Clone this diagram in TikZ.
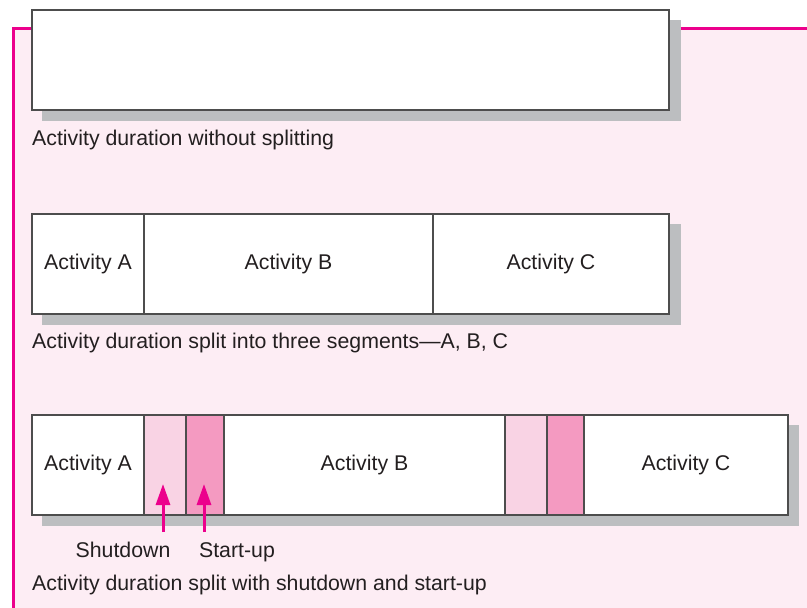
\documentclass[tikz,border=0pt]{standalone}
\usepackage{fontspec}
\setmainfont{Liberation Sans}
\usetikzlibrary{positioning,calc,arrows.meta}

\definecolor{panelpink}{HTML}{FDEDF4}
\definecolor{rulemagenta}{HTML}{EC008C}
\definecolor{shadowgray}{HTML}{BCBEC0}
\definecolor{shutpink}{HTML}{F9D3E4}
\definecolor{startpink}{HTML}{F49AC1}
\definecolor{boxline}{HTML}{4D4D4D}
\definecolor{inktext}{HTML}{231F20}

\tikzset{
  seg/.style={draw=boxline, line width=1.6pt, fill=white, minimum height=100pt,
    inner sep=0pt, outer sep=0pt, text=inktext},
  shutseg/.style={seg, fill=shutpink},
  startseg/.style={seg, fill=startpink},
  caption/.style={anchor=base west, inner sep=0pt, text=inktext},
  shadowbox/.style={fill=shadowgray},
  pointer/.style={draw=rulemagenta, line width=3pt,
    -{Triangle[length=21pt,width=14pt]}}
}

\begin{document}
\begin{tikzpicture}[x=1pt,y=-1pt,line cap=butt,line join=miter,
  font=\fontsize{21.3}{25}\selectfont]
\useasboundingbox (0,0) rectangle (807,608);

% pink panel with magenta rule on top and left
\fill[panelpink] (13.5,28.7) rectangle (807,608);
\draw[rulemagenta, line width=2.8pt] (13.5,608) -- (13.5,28.7) -- (807,28.7);

% bar without splitting
\fill[shadowbox] (42,20) rectangle (681,121);
\node[seg, minimum width=637pt, anchor=north west] (whole) at (32,10) {};
\node[caption] (cap1) at (32,145) {Activity duration without splitting};

% bar split into A, B, C
\fill[shadowbox] (42,224) rectangle (681,325);
\node[seg, minimum width=112pt, anchor=north west] (a2) at (32,214) {Activity A};
\node[seg, minimum width=289pt, right=0pt of a2] (b2) {Activity B};
\node[seg, minimum width=236pt, right=0pt of b2] (c2) {Activity C};
\node[caption] (cap2) at (32,348) {Activity duration split into three segments---A, B, C};

% bar split with shutdown and start-up
\fill[shadowbox] (42,425) rectangle (799,526);
\node[seg, minimum width=112pt, anchor=north west] (a3) at (32,415) {Activity A};
\node[shutseg, minimum width=42pt, right=0pt of a3] (s1) {};
\node[startseg, minimum width=38pt, right=0pt of s1] (u1) {};
\node[seg, minimum width=281pt, right=0pt of u1] (b3) {Activity B};
\node[shutseg, minimum width=42pt, right=0pt of b3] (s2) {};
\node[startseg, minimum width=37pt, right=0pt of s2] (u2) {};
\node[seg, minimum width=204pt, right=0pt of u2] (c3) {Activity C};

% pointers to the first shutdown and start-up
\coordinate (shutfoot) at (163,532);
\coordinate (startfoot) at (204,532);
\draw[pointer] (shutfoot) -- (shutfoot |- 0,484);
\draw[pointer] (startfoot) -- (startfoot |- 0,484);
\node[caption, anchor=base] (shutlbl) at (123,557) {Shutdown};
\node[caption, anchor=base] (startlbl) at (237,557) {Start-up};
\node[caption] (cap3) at (32,590) {Activity duration split with shutdown and start-up};

\end{tikzpicture}
\end{document}
